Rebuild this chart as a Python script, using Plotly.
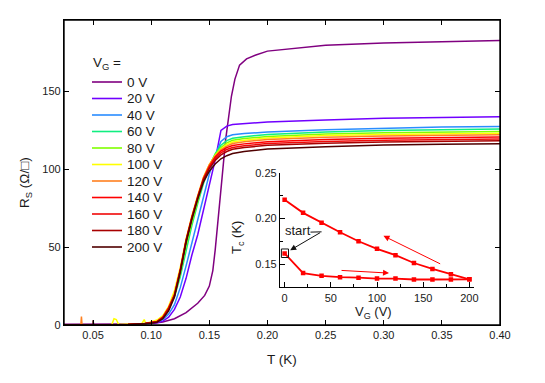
import plotly.graph_objects as go

# ---------------- data ----------------
T_GRID = [0.025, 0.05, 0.08, 0.095, 0.10, 0.105, 0.11, 0.115, 0.12, 0.125, 0.13, 0.135,
          0.14, 0.145, 0.15, 0.155, 0.16, 0.165, 0.17, 0.18, 0.20, 0.25, 0.30, 0.35, 0.40]

T_0V = [0.025, 0.05, 0.08, 0.10, 0.11, 0.12, 0.13, 0.14, 0.146, 0.150, 0.153, 0.155, 0.158,
        0.161, 0.164, 0.167, 0.169, 0.172, 0.176, 0.182, 0.19, 0.20, 0.25, 0.30, 0.35, 0.40]
R_0V = [0.5, 0.5, 0.7, 1.0, 2.0, 4.0, 8.0, 14, 19, 25, 35, 48, 70,
        95, 119, 138, 147, 158, 167, 171, 173.5, 176, 179.8, 181.3, 182.2, 182.8]

R_20V = [0, 0, 0.3, 0.8, 1.0, 1.5, 2.5, 5, 10, 18, 30, 45, 58, 74, 90, 106, 125, 127.8, 128.8, 129.5, 130.5, 131.8, 132.8, 133.3, 133.8]
R_40V = [0, 0, 0.3, 0.8, 1.2, 2, 3.5, 7, 13, 24, 38, 53, 68, 83, 97, 109, 118, 121, 122.3, 123, 124, 125.5, 126.5, 127.2, 127.6]
R_60V = [0, 0, 0.3, 1, 1.5, 2.5, 5, 10, 18, 31, 48, 64, 78, 91, 102, 110, 115.5, 118.5, 120, 121, 122.5, 124, 125, 125.5, 125.9]
R_80V = [0, 0, 0.3, 1, 1.5, 2.5, 5, 10, 19, 33, 51, 66, 80, 93, 102.5, 109.5, 114, 117, 118.7, 119.8, 121.2, 122.7, 123.5, 124, 124.4]
R_100V = [0, 0, 0.4, 1.5, 2.2, 3.2, 6, 12, 22, 37, 55, 70, 83, 95, 103, 109, 113, 116, 117.6, 118.8, 120.2, 121.7, 122.5, 123, 123.3]
R_120V = [0, 0, 0.3, 1, 1.5, 2.3, 5, 11, 20, 36, 55, 70, 83, 95, 103, 108.5, 112.5, 115, 116.6, 117.8, 119.2, 120.7, 121.5, 122, 122.3]
R_140V = [0, 0, 0.3, 1, 1.4, 2.2, 5, 11, 19, 35, 54, 69, 82, 94, 102, 108, 111.8, 114, 115.3, 116.4, 117.8, 119.2, 120, 120.5, 120.8]
R_160V = [0, 0, 0.3, 1, 1.4, 2.2, 5, 11, 19, 35, 54, 69, 82, 94, 101.5, 107, 110.7, 112.8, 114.1, 115.2, 116.6, 117.9, 118.7, 119.2, 119.5]
R_180V = [0, 0, 0.3, 0.9, 1.3, 2, 4.6, 10, 19, 35, 54, 69, 82, 93.5, 100.5, 105.8, 109.3, 111.5, 112.9, 114, 115.5, 116.8, 117.6, 118.1, 118.4]
R_200V = [0, 0, 0.3, 0.8, 1.2, 1.8, 4, 9, 18, 34, 53, 68, 81, 92, 98.8, 103.5, 106.8, 108.8, 110.2, 111.5, 113.1, 114.6, 115.6, 116.1, 116.5]

# measured noise spikes (T, R)
SPIKES_120V = ([0.0395, 0.0400, 0.0405], [0.0, 5.5, 0.0])
SPIKES_100V = ([0.066, 0.068, 0.070, 0.072, 0.092, 0.094, 0.096], [0.0, 4.0, 3.5, 0.3, 1.0, 3.5, 1.2])
SPIKES_200V = ([0.0495, 0.050, 0.0505], [0.0, 3.0, 0.0])

LABELS = ["0 V", "20 V", "40 V", "60 V", "80 V", "100 V", "120 V", "140 V", "160 V", "180 V", "200 V"]
COLORS = ["#800080", "#7000ff", "#2a8cff", "#10ee80", "#80ff00", "#ffff00",
          "#ff8020", "#ff0000", "#f00808", "#a80000", "#500000"]

VG = [0, 20, 40, 60, 80, 100, 120, 140, 160, 180, 200]
TC_SWEEP_UP = [0.162, 0.1405, 0.1375, 0.136, 0.1355, 0.1345, 0.1345, 0.1335, 0.1335, 0.1335, 0.1337]
VG_DOWN = [200, 180, 160, 140, 120, 100, 80, 60, 40, 20, 0]
TC_SWEEP_DOWN = [0.1337, 0.1392, 0.145, 0.1515, 0.160, 0.167, 0.1752, 0.185, 0.1953, 0.2062, 0.2204]

X_RANGE = [0.025, 0.40]
Y_RANGE = [0, 196]

FONT = "Liberation Sans, Arial, sans-serif"
TXT = "#1a1a1a"


def merge(tg, rg, spikes):
    if spikes is None:
        return list(tg), list(rg)
    pts = sorted(list(zip(tg, rg)) + list(zip(spikes[0], spikes[1])))
    return [p[0] for p in pts], [p[1] for p in pts]


series_R = [None, R_20V, R_40V, R_60V, R_80V, R_100V, R_120V, R_140V, R_160V, R_180V, R_200V]
spikes = {5: SPIKES_100V, 6: SPIKES_120V, 10: SPIKES_200V}

fig = go.Figure()
for i, lab in enumerate(LABELS):
    if i == 0:
        xs, ys = T_0V, R_0V
    else:
        xs, ys = merge(T_GRID, series_R[i], spikes.get(i))
    fig.add_trace(go.Scatter(x=xs, y=ys, mode="lines", name=lab,
                             line=dict(color=COLORS[i], width=1.5),
                             showlegend=False, xaxis="x", yaxis="y"))

# plot-area frame drawn along the axis range limits
fig.add_trace(go.Scatter(x=[X_RANGE[0], X_RANGE[1], X_RANGE[1], X_RANGE[0], X_RANGE[0]],
                         y=[Y_RANGE[0], Y_RANGE[0], Y_RANGE[1], Y_RANGE[1], Y_RANGE[0]],
                         mode="lines", line=dict(color="black", width=1.4),
                         cliponaxis=False, hoverinfo="skip", showlegend=False,
                         xaxis="x", yaxis="y"))

# inset
fig.add_trace(go.Scatter(x=VG, y=TC_SWEEP_UP, mode="lines+markers",
                         line=dict(color="#ff0000", width=1.8),
                         marker=dict(symbol="square", size=4.5, color="#ff0000"),
                         showlegend=False, xaxis="x2", yaxis="y2"))
fig.add_trace(go.Scatter(x=VG_DOWN, y=TC_SWEEP_DOWN, mode="lines+markers",
                         line=dict(color="#ff0000", width=1.8),
                         marker=dict(symbol="square", size=4.5, color="#ff0000"),
                         showlegend=False, xaxis="x2", yaxis="y2"))

# geometry (pixels -> paper)
L, R_, T_, B = 64, 45, 20, 58
W, H = 545, 383
PW, PH = W - L - R_, H - T_ - B


def px(x):
    return (x - L) / PW


def py(y):
    return (H - B - y) / PH


LINE_C = "black"


def axis_style(**kw):
    d = dict(showline=True, linecolor=LINE_C, linewidth=1.3, ticks="inside",
             tickcolor=LINE_C, ticklen=5, tickwidth=1.2, showgrid=False, zeroline=False,
             tickfont=dict(family=FONT, size=11, color=TXT))
    d.update(kw)
    return d


fig.update_layout(
    width=W, height=H, margin=dict(l=L, r=R_, t=T_, b=B),
    paper_bgcolor="#ffffff", plot_bgcolor="rgba(0,0,0,0)",
    font=dict(family=FONT, color=TXT),
    xaxis=axis_style(range=X_RANGE, tickvals=[0.05, 0.10, 0.15, 0.20, 0.25, 0.30, 0.35, 0.40],
                     ticktext=["0.05", "0.10", "0.15", "0.20", "0.25", "0.30", "0.35", "0.40"],
                     mirror="ticks"),
    yaxis=axis_style(range=Y_RANGE, tickvals=[0, 50, 100, 150], mirror="ticks"),
    xaxis2=axis_style(range=[-5, 205], tick0=0, dtick=50,
                      minor=dict(dtick=25, ticklen=3, ticks="inside", tickcolor=LINE_C),
                      domain=[px(280), px(474)], anchor="y2"),
    yaxis2=axis_style(range=[0.125, 0.25], tick0=0, dtick=0.05, tickformat=".2f",
                      minor=dict(dtick=0.025, ticklen=3, ticks="inside", tickcolor=LINE_C),
                      domain=[py(287.3), py(172.7)], anchor="x2"),
)

ann = []
shapes = []


def text_ann(text, x, y, size, xanchor="center", angle=0):
    return dict(text=text, x=px(x), y=py(y), xref="paper", yref="paper",
                xanchor=xanchor, yanchor="middle", textangle=angle, showarrow=False,
                font=dict(size=size, family=FONT, color=TXT))


# axis titles
ann.append(text_ann("T (K)", 282, 360, 13.5))
ann.append(text_ann("R<sub>S</sub> (Ω/□)", 25, 183, 13.5, angle=-90))
ann.append(text_ann("V<sub>G</sub> (V)", 373, 312, 13))
ann.append(text_ann("T<sub>c</sub> (K)", 237, 238, 13, angle=-90))

# legend (manual, compact)
ann.append(text_ann("V<sub>G</sub> =", 91, 63, 13.5, xanchor="left"))
for i, lab in enumerate(LABELS):
    yy = 82 + i * 16.5
    shapes.append(dict(type="line", xref="paper", yref="paper", x0=px(92), x1=px(122),
                       y0=py(yy), y1=py(yy), line=dict(color=COLORS[i], width=1.6)))
    ann.append(text_ann(lab, 125, yy, 13.5, xanchor="left"))

# inset annotations
ann.append(dict(text="", x=107, y=0.1811, ax=170, ay=0.1498, xref="x2", yref="y2",
                axref="x2", ayref="y2", showarrow=True, arrowhead=2, arrowsize=1.2,
                arrowwidth=1, arrowcolor="#ff0000"))
ann.append(dict(text="", x=113, y=0.1405, ax=60, ay=0.1435, xref="x2", yref="y2",
                axref="x2", ayref="y2", showarrow=True, arrowhead=2, arrowsize=1.2,
                arrowwidth=1, arrowcolor="#ff0000"))
ann.append(dict(text="start", x=14, y=0.1873, xref="x2", yref="y2", showarrow=False,
                xanchor="center", yanchor="middle",
                font=dict(size=13, family=FONT, color=TXT)))
shapes.append(dict(type="line", xref="x2", yref="y2", x0=28, x1=40, y0=0.1852, y1=0.1855,
                   line=dict(color="#111111", width=1)))
ann.append(dict(text="", x=6, y=0.1654, ax=40, ay=0.1855, xref="x2", yref="y2",
                axref="x2", ayref="y2", showarrow=True, arrowhead=2, arrowsize=1.2,
                arrowwidth=1, arrowcolor="#111111"))
shapes.append(dict(type="rect", xref="x2", yref="y2", x0=-3.5, x1=4.2, y0=0.1575, y1=0.1668,
                   line=dict(color="#111111", width=1)))

fig.update_layout(annotations=ann, shapes=shapes)
fig.write_html("out.html", config={"displayModeBar": False},
               post_script="document.body.style.margin='0';")
